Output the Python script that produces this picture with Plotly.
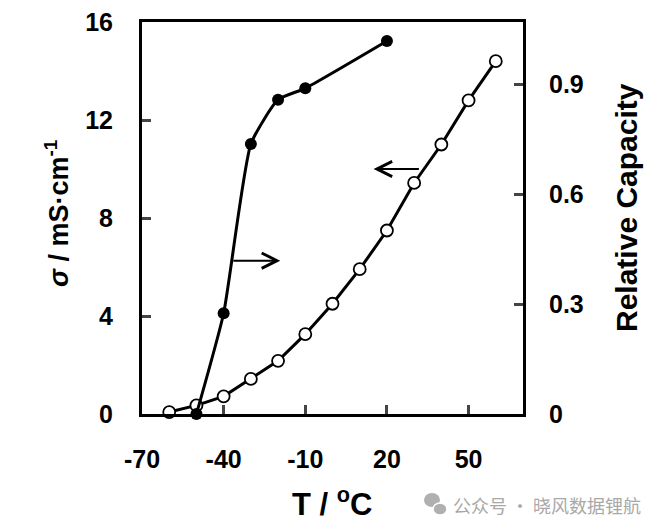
import plotly.graph_objects as go

# conductivity (left axis), open circles
temp_sigma = [-60, -50, -40, -30, -20, -10, 0, 10, 20, 30, 40, 50, 60]
sigma = [0.08, 0.35, 0.72, 1.43, 2.17, 3.26, 4.5, 5.91, 7.49, 9.43, 11.0, 12.8, 14.4]

# relative capacity (right axis), filled circles
temp_cap = [-50, -40, -30, -20, -10, 20]
capacity = [0.0, 0.275, 0.737, 0.858, 0.889, 1.018]

x_ticks = [-70, -40, -10, 20, 50]
x_labels = ["-70", "-40", "-10", "20", "50"]
y_ticks = [0, 4, 8, 12, 16]
y2_ticks = [0, 0.3, 0.6, 0.9]
y2_labels = ["0", "0.3", "0.6", "0.9"]

FONT = "Liberation Sans"

# page body has an 8px margin, so the figure is a bit smaller than the window
W, H = 656, 523
L, R, T, B = 134, 141, 14, 117

fig = go.Figure()
fig.add_trace(go.Scatter(
    x=temp_sigma, y=sigma, mode='lines+markers', cliponaxis=False,
    line=dict(color='black', width=3),
    marker=dict(symbol='circle', size=12, color='white', line=dict(color='black', width=1.8))
))
fig.add_trace(go.Scatter(
    x=temp_cap, y=capacity, yaxis='y2', mode='lines+markers', cliponaxis=False,
    line=dict(color='black', width=3, shape='spline', smoothing=0.5),
    marker=dict(symbol='circle', size=12, color='black')
))

tickfont = dict(family=FONT, size=25, color='black', weight='bold')
fig.update_layout(
    width=W, height=H,
    margin=dict(l=L, r=R, t=T, b=B),
    plot_bgcolor='white', paper_bgcolor='white',
    showlegend=False,
    font=dict(family=FONT, color='black'),
    xaxis=dict(range=[-70, 70], tickvals=x_ticks, ticktext=x_labels, ticks='inside', ticklen=9, tickwidth=3,
               showline=True, linecolor='black', linewidth=3, mirror=True, automargin=False,
               showgrid=False, zeroline=False, tickfont=tickfont, ticklabelstandoff=21,
               ticklabeloverflow='allow'),
    yaxis=dict(range=[0, 16], tickvals=y_ticks, ticks='inside', ticklen=9, tickwidth=3,
               showline=True, linecolor='black', linewidth=3, automargin=False,
               showgrid=False, zeroline=False, tickfont=tickfont, ticklabelstandoff=21,
               ticklabeloverflow='allow'),
    yaxis2=dict(range=[0, 1.07], tickvals=y2_ticks, ticktext=y2_labels, overlaying='y', side='right',
                ticks='inside', ticklen=9, tickwidth=3, automargin=False,
                showline=True, linecolor='black', linewidth=3,
                showgrid=False, zeroline=False, tickfont=tickfont, ticklabelstandoff=18,
                ticklabeloverflow='allow'),
)

pw, ph = W - L - R, H - T - B


def px(x):
    return (x - 8 - L) / pw


def py(y):
    return 1 - (y - 8 - T) / ph


fig.add_annotation(text="<i>σ</i> / mS·cm<sup>-1</sup>", xref='paper', yref='paper',
                   x=px(57), y=py(214), xanchor='center', yanchor='middle',
                   textangle=-90, showarrow=False,
                   font=dict(family=FONT, size=27, color='black', weight='bold'))
fig.add_annotation(text="Relative Capacity", xref='paper', yref='paper',
                   x=px(626), y=py(208), xanchor='center', yanchor='middle',
                   textangle=-90, showarrow=False,
                   font=dict(family=FONT, size=30, color='black', weight='bold'))
fig.add_annotation(text="T / <sup>o</sup>C", xref='paper', yref='paper',
                   x=px(332), y=py(502), xanchor='center', yanchor='middle', showarrow=False,
                   font=dict(family=FONT, size=31, color='black', weight='bold'))

# direction arrows
fig.add_annotation(x=-19.2, y=6.26, ax=-37, ay=6.26, xref='x', yref='y', axref='x', ayref='y',
                   showarrow=True, arrowhead=5, arrowsize=1.5, arrowwidth=2, arrowcolor='black', text="")
fig.add_annotation(x=15.1, y=10.0, ax=32.3, ay=10.0, xref='x', yref='y', axref='x', ayref='y',
                   showarrow=True, arrowhead=5, arrowsize=1.5, arrowwidth=2, arrowcolor='black', text="")

# watermark
fig.add_annotation(text="公众号 · 晓风数据锂航", xref='paper', yref='paper', x=px(643), y=py(505),
                   xanchor='right', yanchor='middle', showarrow=False,
                   font=dict(family="Noto Sans CJK SC", size=18, color='#a8a8a8'))
fig.add_shape(type='circle', xref='paper', yref='paper', xsizemode='pixel', ysizemode='pixel',
              xanchor=px(432), yanchor=py(500), x0=-8, x1=8, y0=-7, y1=7,
              fillcolor='#b0b0b0', line=dict(width=0))
fig.add_shape(type='circle', xref='paper', yref='paper', xsizemode='pixel', ysizemode='pixel',
              xanchor=px(440), yanchor=py(509), x0=-7, x1=7, y0=-6, y1=6,
              fillcolor='#b0b0b0', line=dict(color='white', width=1.5))

fig.write_html("out.html")
